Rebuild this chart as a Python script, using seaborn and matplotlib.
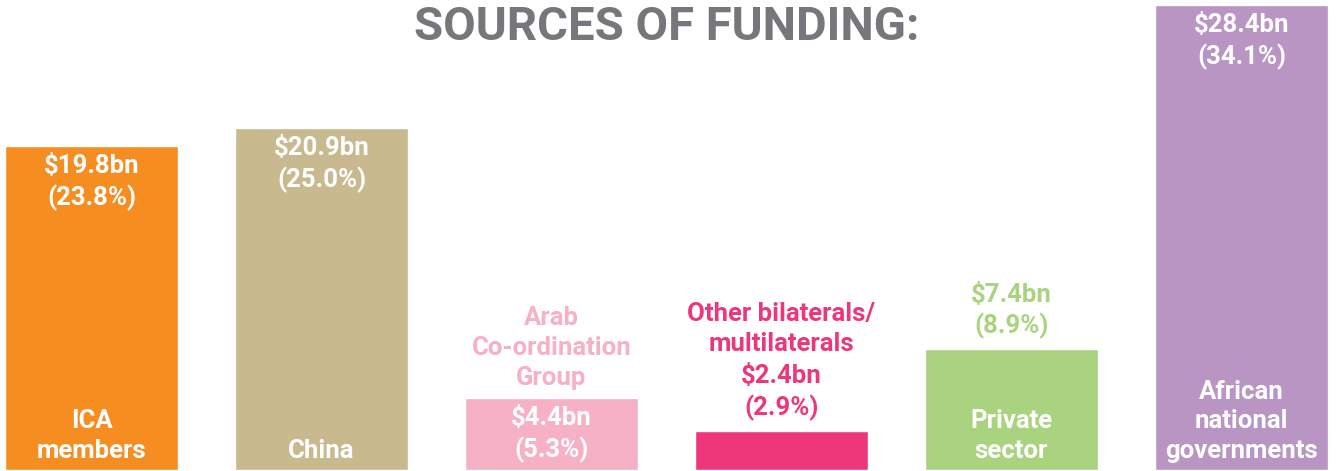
import matplotlib
matplotlib.use("Agg")
import matplotlib.pyplot as plt
import pandas as pd
import seaborn as sns

# Data
sources = ["ICA members", "China", "Arab Co-ordination Group",
           "Other bilaterals/multilaterals", "Private sector",
           "African national governments"]
funding_bn = [19.8, 20.9, 4.4, 2.4, 7.4, 28.4]
share_pct = [23.8, 25.0, 5.3, 2.9, 8.9, 34.1]
bar_labels = ["ICA\nmembers", "China", "Arab\nCo-ordination\nGroup",
              "Other bilaterals/\nmultilaterals", "Private\nsector",
              "African\nnational\ngovernments"]
colors = ["#F58D21", "#C8B98F", "#F6B1C4", "#EE377B", "#AAD37F", "#B895C3"]

# where each text goes: name inside bottom / above bar, value inside top / above
name_pos = ["in", "in", "above", "above", "in", "in"]
value_pos = ["in", "in", "in", "above", "above", "in"]

df = pd.DataFrame({"source": sources, "bn": funding_bn})

sns.set_style("white")
plt.rcParams["font.family"] = ["Roboto", "DejaVu Sans"]

fig = plt.figure(figsize=(13.38, 4.71), dpi=100)
ax = fig.add_axes([0, 0, 1, 1])
sns.barplot(data=df, x="source", y="bn", hue="source", palette=colors,
            order=sources, width=0.752, legend=False, saturation=1, ax=ax)
ax.set_xlim(-0.398, 5.42)
ax.set_ylim(-0.06, 28.7)
ax.axis("off")

fs = 18.5
ls = 1.3
fw = "bold"
for i, (v, p) in enumerate(zip(funding_bn, share_pct)):
    vtxt = f"${v}bn\n({p}%)"
    if value_pos[i] == "in":
        ax.annotate(vtxt, (i, v), xytext=(0, -6), textcoords="offset points",
                    ha="center", va="top", color="white", fontsize=fs,
                    fontweight=fw, linespacing=ls)
    else:
        ax.annotate(vtxt, (i, v), xytext=(0, 7), textcoords="offset points",
                    ha="center", va="bottom", color=colors[i], fontsize=fs,
                    fontweight=fw, linespacing=ls)
    if name_pos[i] == "in":
        ax.annotate(bar_labels[i], (i, 0), xytext=(0, 5), textcoords="offset points",
                    ha="center", va="bottom", color="white", fontsize=fs,
                    fontweight=fw, linespacing=ls)
    else:
        off = 6 if value_pos[i] == "in" else 54
        ax.annotate(bar_labels[i], (i, v), xytext=(0, off), textcoords="offset points",
                    ha="center", va="bottom", color=colors[i], fontsize=fs,
                    fontweight=fw, linespacing=ls)

fig.text(0.498, 0.99, "SOURCES OF FUNDING:", ha="center", va="top",
         fontsize=34, fontweight=fw, color="#76777A")

fig.savefig("out.png", dpi=100)
